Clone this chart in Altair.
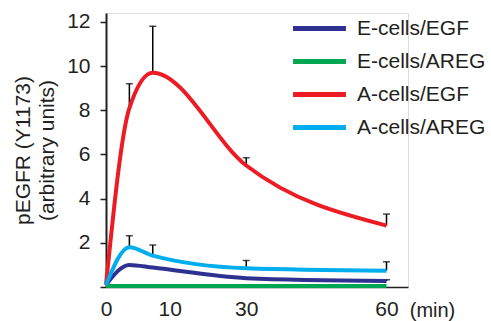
import altair as alt
import pandas as pd

# ---- data ----
times = [0, 5, 10, 30, 60]
series = ["E-cells/EGF", "E-cells/AREG", "A-cells/EGF", "A-cells/AREG"]
colors = ["#2e3192", "#00a651", "#ed1c24", "#00aeef"]

e_egf = [0.1, 1.0, 0.88, 0.4, 0.27]
e_areg = [0.05, 0.05, 0.05, 0.05, 0.05]
a_egf = [0.1, 8.1, 9.7, 5.5, 2.78]
a_areg = [0.1, 1.8, 1.42, 0.85, 0.74]

# error bars (upper only)
err_series = ["A-cells/EGF"] * 4 + ["A-cells/AREG"] * 4 + ["E-cells/EGF"]
err_time = [5, 10, 30, 60, 5, 10, 30, 60, 60]
err_mean = [8.1, 9.7, 5.5, 2.78, 1.8, 1.42, 0.85, 0.74, 0.27]
err_top = [9.2, 11.8, 5.85, 3.3, 2.32, 1.9, 1.2, 1.14, 0.33]

x_ticks = [0, 10, 30, 60]
y_ticks = [0, 2, 4, 6, 8, 10, 12]

rows = []
for name, vals in zip(series, [e_egf, e_areg, a_egf, a_areg]):
    for t, v in zip(times, vals):
        rows.append({"series": name, "time": t, "value": v})
df = pd.DataFrame(rows)
edf = pd.DataFrame({"series": err_series, "time": err_time,
                    "mean": err_mean, "top": err_top})

FONT = "Liberation Sans"
TXT = "#231f20"
FS = 21

xscale = alt.Scale(domain=[0, 64.6], nice=False, zero=False)
yscale = alt.Scale(domain=[0, 12.4], nice=False)

xaxis = alt.Axis(values=x_ticks, ticks=False, grid=False, domainColor=TXT,
                 domainWidth=1.5, labelFontSize=FS, labelColor=TXT, labelFont=FONT,
                 labelPadding=11, labelFlush=False,
                 labelOffset={"condition": {"test": "datum.value == 10", "value": 17}, "value": 0},
                 title="(min)", titleFontSize=20, titleFontWeight="normal", titleColor=TXT,
                 titleFont=FONT, titleX=326, titleY=29, titleAlign="center",
                 titleBaseline="alphabetic")
yaxis = alt.Axis(values=y_ticks, grid=False, domainColor=TXT, domainWidth=2,
                 tickColor=TXT, tickSize=6, tickWidth=1.5, labelFontSize=FS,
                 labelColor=TXT, labelFont=FONT, labelPadding=10,
                 labelExpr="datum.value == 0 ? '' : datum.label",
                 title=["pEGFR (Y1173)", "(arbitrary units)"], titleFontSize=FS,
                 titleFontWeight="normal", titleColor=TXT, titleFont=FONT,
                 titleLineHeight=24, titleX=-94, titleY=137, titleAlign="center",
                 titleBaseline="top", titleAngle=270)

color = alt.Color("series:N", scale=alt.Scale(domain=series, range=colors),
                  legend=alt.Legend(title=None, orient="none", legendX=203, legendY=5,
                                    symbolType="M-5,0H5", symbolSize=112,
                                    symbolStrokeWidth=5, labelFontSize=FS,
                                    labelFont=FONT, labelColor=TXT, labelOffset=27,
                                    rowPadding=11, padding=0, labelLimit=300))

err_rule = alt.Chart(edf).mark_rule(color="black", strokeWidth=1.5).encode(
    x=alt.X("time:Q", scale=xscale, axis=xaxis),
    y=alt.Y("mean:Q", scale=yscale, axis=yaxis),
    y2="top:Q",
)
err_cap = alt.Chart(edf).mark_tick(color="black", orient="horizontal", size=7,
                                   thickness=1.5).encode(
    x=alt.X("time:Q", scale=xscale),
    y=alt.Y("top:Q", scale=yscale),
)
lines = alt.Chart(df).mark_line(interpolate="monotone", strokeWidth=4).encode(
    x=alt.X("time:Q", scale=xscale),
    y=alt.Y("value:Q", scale=yscale),
    color=color,
    order=alt.Order("time:Q"),
    detail="series:N",
)

chart = alt.layer(err_rule, err_cap, lines).properties(
    width=302, height=274,
    autosize=alt.AutoSizeParams(type="none"),
    padding={"left": 106, "top": 13, "right": 83, "bottom": 34},
).configure_view(stroke=None).configure(background="white")

chart.save("out.html", embed_options={"renderer": "svg", "actions": False})
